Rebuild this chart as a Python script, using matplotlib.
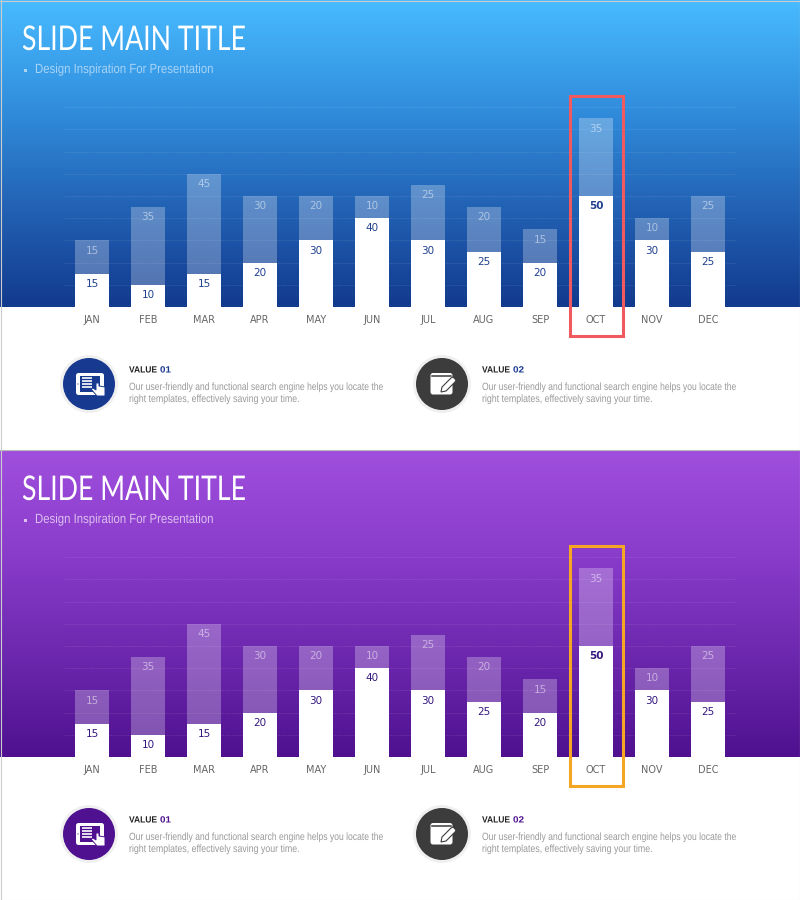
import matplotlib
matplotlib.use("Agg")
import matplotlib.pyplot as plt
import numpy as np
from matplotlib.colors import LinearSegmentedColormap
from matplotlib.patches import Circle, FancyBboxPatch, Polygon, Rectangle
from matplotlib.patheffects import AbstractPathEffect
from matplotlib.transforms import Affine2D

months = ["JAN", "FEB", "MAR", "APR", "MAY", "JUN", "JUL", "AUG", "SEP", "OCT", "NOV", "DEC"]
solid_vals = [15, 10, 15, 20, 30, 40, 30, 25, 20, 50, 30, 25]
light_vals = [15, 35, 45, 30, 20, 10, 25, 20, 15, 35, 10, 25]
grid_vals = [10, 20, 30, 40, 50, 60, 70, 80, 90]

title = "SLIDE MAIN TITLE"
subtitle = "Design Inspiration For Presentation"
body_1 = "Our user-friendly and functional search engine helps you locate the"
body_2 = "right templates, effectively saving your time."

plt.rcParams["font.family"] = ["Liberation Sans", "DejaVu Sans"]

fig = plt.figure(figsize=(8, 9), dpi=100, facecolor="white")

# everything decorative is placed in pixels on this one
bg = fig.add_axes([0, 0, 1, 1], zorder=0)
bg.set_xlim(0, 800)
bg.set_ylim(900, 0)
bg.axis("off")

top = fig.add_axes([0, 0, 1, 1], zorder=5)
top.set_xlim(0, 800)
top.set_ylim(900, 0)
top.axis("off")


class Squeeze(AbstractPathEffect):
    # no condensed font installed, so narrow the glyphs while drawing
    def __init__(self, sx):
        super().__init__()
        self.sx = sx

    def draw_path(self, renderer, gc, tpath, affine, rgbFace=None):
        renderer.draw_path(gc, tpath, Affine2D().scale(self.sx, 1) + affine, rgbFace)


def narrow_text(ax, x, y, s, width, **kw):
    t = ax.text(x, y, s, va="center", ha="left", zorder=3, **kw)
    natural = t.get_window_extent(fig.canvas.get_renderer()).width
    t.set_path_effects([Squeeze(width / natural)])
    return t


def icon_tablet(ax, cx, cy, col):
    ax.add_patch(FancyBboxPatch((cx - 13, cy - 11), 28, 22, boxstyle="round,pad=0,rounding_size=2.5", fc="white", ec="none"))
    ax.add_patch(Rectangle((cx - 9, cy - 8), 20, 16, fc=col, ec="none"))
    ax.add_patch(Circle((cx - 11, cy), 0.6, fc=col, ec="none"))
    for dy in [-6, -3, 0, 3]:
        ax.plot([cx - 7, cx + 3], [cy + dy, cy + dy], color="white", lw=1.2, solid_capstyle="butt")
    ax.add_patch(Polygon([(cx + 2, cy + 5), (cx + 4, cy + 4), (cx + 7, cy + 6), (cx + 7, cy - 1), (cx + 10, cy - 1),
                          (cx + 10, cy + 2), (cx + 16, cy + 3), (cx + 16, cy + 12), (cx + 8, cy + 12)],
                         fc="white", ec=col, lw=0.7))


def icon_note(ax, cx, cy, col):
    ax.add_patch(FancyBboxPatch((cx - 11.5, cy - 11), 22, 21.5, boxstyle="round,pad=0,rounding_size=2.5", fc="white", ec="none"))
    ax.plot([cx - 10, cx + 9], [cy - 8, cy - 8], color=col, lw=1.1)
    ax.add_patch(Polygon([(cx - 1, cy + 8), (cx, cy + 3), (cx + 9, cy - 6), (cx + 11, cy - 7), (cx + 14, cy - 4),
                          (cx + 13, cy - 2), (cx + 4, cy + 7)], fc="white", ec=col, lw=0.8))


def draw_slide(off, grad_cols, accent, box_col, value_col, sub_col):
    cmap = LinearSegmentedColormap.from_list("grad", grad_cols)
    bg.imshow(np.linspace(0, 1, 256).reshape(-1, 1), cmap=cmap, aspect="auto", extent=(0, 800, off + 307, off), zorder=1)
    bg.set_xlim(0, 800)
    bg.set_ylim(900, 0)

    narrow_text(bg, 22, off + 40, title, 224, color="white", fontsize=24.5, family=["Lato", "Liberation Sans"])
    bg.add_patch(Rectangle((23.5, off + 68.5), 3, 3, fc=sub_col, ec="none", zorder=3))
    narrow_text(bg, 35, off + 70, subtitle, 179, color=sub_col, fontsize=9.6)

    # 2.22 px per unit, baseline at 307
    ax = fig.add_axes([64 / 800, 1 - (off + 307) / 900, 672 / 800, 211 / 900], zorder=2)
    ax.patch.set_alpha(0)
    x = np.arange(len(months))
    ax.set_xlim(-0.5, 11.5)
    ax.set_ylim(0, 211 / 2.22)
    for g in grid_vals:
        ax.axhline(g, color="white", alpha=0.11, lw=0.7, ls=(0, (1.5, 1)), zorder=1)
    ax.bar(x, solid_vals, width=0.59, color="white", zorder=3)
    ax.bar(x, light_vals, width=0.59, bottom=solid_vals, color="white", alpha=0.27, zorder=2)
    for i in x:
        s, l = solid_vals[i], light_vals[i]
        ax.annotate(str(s), (i, s), xytext=(0, -7.4), textcoords="offset points", ha="center", va="center",
                    color=value_col, fontsize=7.5, family="DejaVu Sans", fontweight="bold" if months[i] == "OCT" else "normal")
        ax.annotate(str(l), (i, s + l), xytext=(0, -7.4), textcoords="offset points", ha="center", va="center",
                    color="white", alpha=0.5, fontsize=7.5, family="DejaVu Sans")
    ax.set_xticks(x, months)
    ax.set_yticks([])
    ax.tick_params(axis="x", length=0, pad=6, labelsize=7, labelcolor="#666666")
    for lab in ax.get_xticklabels():
        lab.set_family("DejaVu Sans")
    for sp in ax.spines.values():
        sp.set_visible(False)

    # highlight around OCT
    top.add_patch(Rectangle((570, off + 96), 53, 240, fc="none", ec=box_col, lw=2.2))

    # value blocks
    for cx, tx, num, col in [(89, 129, "01", accent), (442, 482, "02", "#3C3C3C")]:
        cy = off + 384
        bg.add_patch(Circle((cx, cy), 29, fc="#F0F0F0", ec="none", zorder=2))
        bg.add_patch(Circle((cx, cy), 26, fc=col, ec="none", zorder=3))
        if num == "01":
            icon_tablet(top, cx, cy, col)
        else:
            icon_note(top, cx, cy, col)
        narrow_text(bg, tx, off + 370, "VALUE", 28, color="#222222", fontsize=6.5, fontweight="bold")
        narrow_text(bg, tx + 31, off + 370, num, 11, color=accent, fontsize=6.5, fontweight="bold")
        narrow_text(bg, tx, off + 387, body_1, 254, color="#999999", fontsize=7.6)
        narrow_text(bg, tx, off + 399, body_2, 170, color="#999999", fontsize=7.6)


draw_slide(0, ["#48BBFF", "#3290DF", "#2363B5", "#123A8E"], "#17398F", "#F05A5F", "#1F3F8F", "#A8D4F5")
draw_slide(450, ["#A04FDD", "#8A3CCB", "#6C28AE", "#4F1190"], "#4F1190", "#F5A623", "#33167F", "#DCC0F0")

# thin frame and divider
top.plot([0.5, 0.5], [0, 900], color="#CCCCCC", lw=0.8)
top.plot([0, 800], [0.5, 0.5], color="#CCCCCC", lw=0.8)
top.plot([799.5, 799.5], [0, 900], color="#DDDDDD", lw=0.8)
top.plot([0, 800], [449.5, 449.5], color="#BBBBBB", lw=0.8)
top.plot([0, 800], [899.5, 899.5], color="#DDDDDD", lw=0.8)

fig.savefig("out.png", dpi=100)
